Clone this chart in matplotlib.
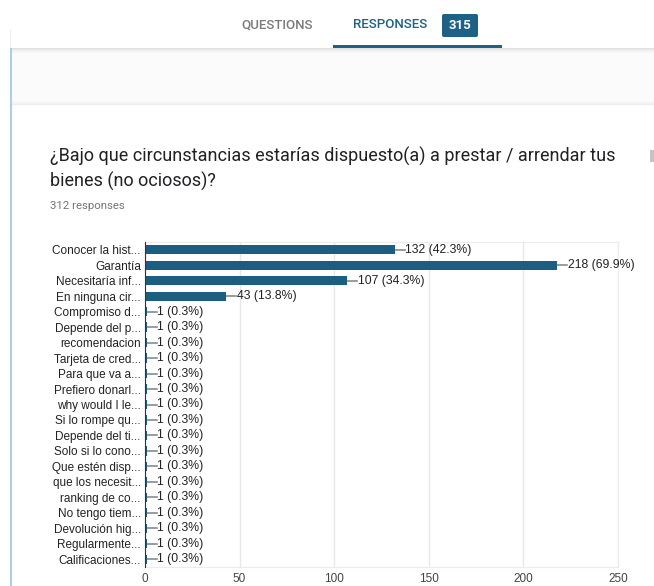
import matplotlib
matplotlib.use('Agg')
import matplotlib.pyplot as plt
from matplotlib.patches import Rectangle, FancyBboxPatch

############################################################################
#                    Survey data                                           #
############################################################################
Question_Line_1 = '¿Bajo que circunstancias estarías dispuesto(a) a prestar / arrendar tus'
Question_Line_2 = 'bienes (no ociosos)?'
N_Responses     = 312
N_Total         = 315

Answers = ['Conocer la hist...', 'Garantía', 'Necesitaría inf...', 'En ninguna cir...',
           'Compromiso d...', 'Depende del p...', 'recomendacion', 'Tarjeta de cred...',
           'Para que va a...', 'Prefiero donarl...', 'why would I le...', 'Si lo rompe qu...',
           'Depende del ti...', 'Solo si lo cono...', 'Que estén disp...', 'que los necesit...',
           'ranking de co...', 'No tengo tiem...', 'Devolución hig...', 'Regularmente...',
           'Calificaciones...']
Counts  = [132, 218, 107, 43] + [1] * 17

X_Ticks = [0, 50, 100, 150, 200, 250]
############################################################################

W, H = 654, 586
Bar_Color = '#1c5e80'
Accent    = '#1d6186'

fig = plt.figure(figsize=(W / 100, H / 100), dpi=100)
fig.patch.set_facecolor('white')

# page background drawn in pixel coordinates
bg = fig.add_axes([0, 0, 1, 1])
bg.set_xlim(0, W)
bg.set_ylim(H, 0)
bg.axis('off')

bg.add_patch(Rectangle((12, 48), W, 58, color='#fbfbfb', lw=0))
for k, c in enumerate(['#e0e0e0', '#e9e9e9', '#efefef', '#f4f4f4', '#f8f8f8']):
    bg.add_patch(Rectangle((12, 48 + k), W, 1, color=c, lw=0))
for k, c in enumerate(['#f8f8f8', '#f5f5f5', '#f2f2f2', '#eeeeee']):
    bg.add_patch(Rectangle((12, 101 + k), W, 1, color=c, lw=0))
bg.add_patch(Rectangle((10, 30), 1, 18, color='#eeeeee', lw=0))
bg.add_patch(Rectangle((10, 48), 2, H - 48, color='#a9d0e2', lw=0))
bg.add_patch(Rectangle((650, 150), 4, 12, color='#c4c4c4', lw=0))

# tab bar
bg.text(277, 25, 'QUESTIONS', ha='center', va='center', fontsize=9.5,
        family='Roboto', weight='medium', color='#7a7a7a')
bg.text(390, 25, 'RESPONSES', ha='center', va='center', fontsize=9.5,
        family='Roboto', weight='medium', color=Accent)
bg.add_patch(FancyBboxPatch((443, 15), 34, 21, boxstyle='round,pad=1,rounding_size=2',
                            color=Accent, lw=0))
bg.text(460, 25.5, str(N_Total), ha='center', va='center', fontsize=9.5,
        family='Roboto', weight='bold', color='white')
bg.add_patch(Rectangle((333, 45), 169, 2.5, color=Accent, lw=0))

# question heading
bg.text(50, 156, Question_Line_1, ha='left', va='center', fontsize=13.0,
        family='Roboto', color='#202124')
bg.text(50, 181, Question_Line_2, ha='left', va='center', fontsize=13.0,
        family='Roboto', color='#202124')
bg.text(50, 206, '%d responses' % N_Responses, ha='left', va='center', fontsize=8.2,
        family='Roboto', color='#757575')

# bar chart
ax = fig.add_axes([145 / W, (H - 567) / H, (618 - 145) / W, (567 - 242) / H])
rows = list(range(len(Answers)))
ax.barh(rows, Counts, height=0.6, color=Bar_Color, zorder=3)
for i, v in zip(rows, Counts):
    ax.plot([v, v + 5.2], [i, i], color='#808080', lw=1.1, zorder=2)
    ax.text(v + 5.6, i, '%d (%.1f%%)' % (v, 100.0 * v / N_Responses), va='center',
            ha='left', fontsize=8.8, family='Liberation Sans', color='#222222')

ax.set_xlim(0, 250)
ax.set_ylim(len(Answers) - 0.5, -0.5)
ax.set_xticks(X_Ticks)
ax.set_yticks(rows)
ax.set_yticklabels(Answers, family='Liberation Sans', fontsize=8.5, color='#222222')
ax.set_xticklabels([str(t) for t in X_Ticks], family='Liberation Sans', fontsize=8.5,
                   color='#444444')
ax.tick_params(axis='both', length=0)
ax.tick_params(axis='y', pad=3)
ax.tick_params(axis='x', pad=4)
ax.grid(axis='x', color='#e8e8e8', lw=1, zorder=0)
for side in ['top', 'right', 'bottom']:
    ax.spines[side].set_color('#ececec')
ax.spines['left'].set_color('#333333')
ax.spines['left'].set_zorder(4)

plt.savefig('out.png', dpi=100)
plt.close()
